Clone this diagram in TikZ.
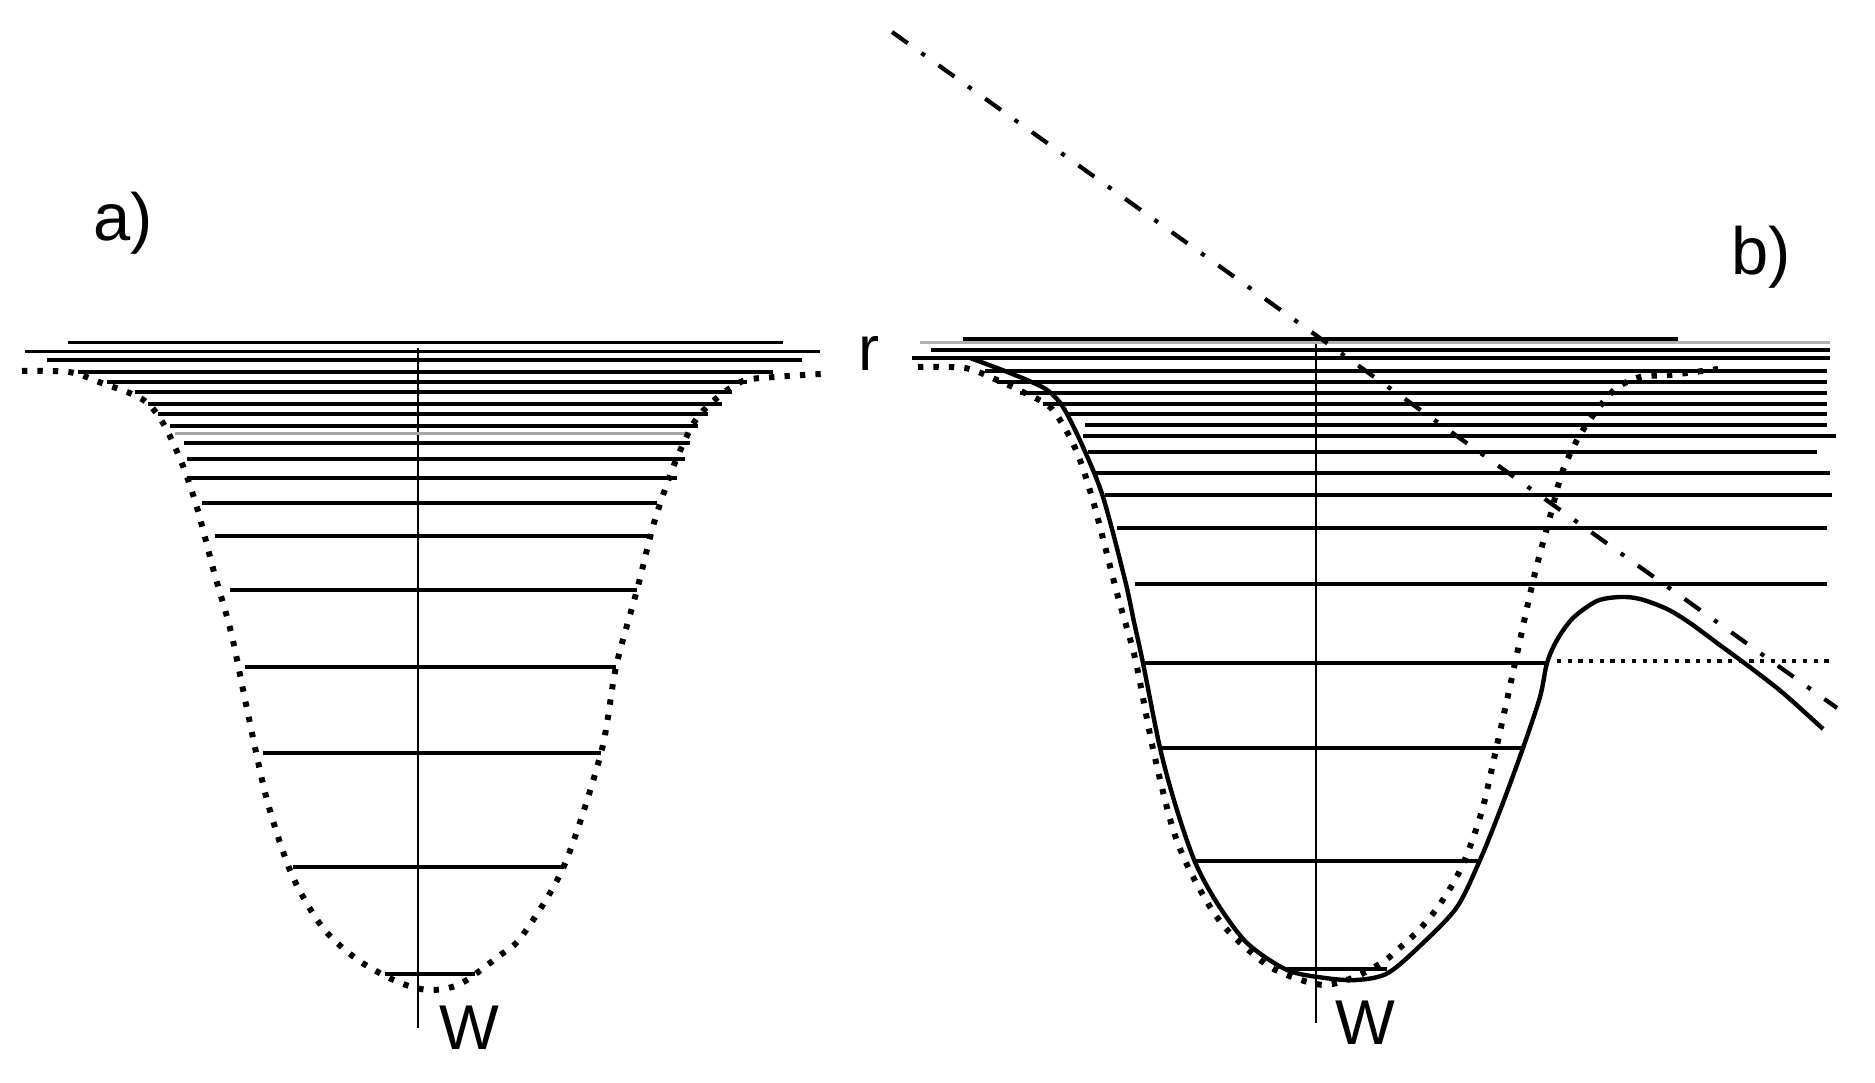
\documentclass[tikz,border=0pt]{standalone}
\usepackage{fontspec}
\setmainfont{Liberation Sans}

\begin{document}
\begin{tikzpicture}[x=0.01cm, y=-0.01cm,
    label text/.style={inner sep=0pt, anchor=base west, font=\fontsize{18}{18}\selectfont},
    panel text/.style={label text, font=\fontsize{19}{19}\selectfont},
    axis line/.style={line width=0.8pt},
    level line/.style={line width=1.25pt},
    thin level/.style={line width=0.85pt},
    curve line/.style={line width=1.25pt, line join=round},
    dot line/.style={line width=1.7pt, dash pattern=on 1.5pt off 2.9pt},
    short dots/.style={line width=1.3pt, dash pattern=on 1.2pt off 1.84pt},
    dash dot line/.style={line width=1.2pt, dash pattern=on 5.5pt off 4.8pt on 1.2pt off 4.8pt}]
  \useasboundingbox (0,0) rectangle (1875,1083);

  % a)
  \node[panel text] (alabel) at (93,241) {a)};
  \node[label text] (wleft) at (439,1050) {W};
  \draw[axis line] (418,348) -- (418,1028);
  \draw[thin level] (68,343) -- (783,343);
  \draw[thin level] (25,352) -- (820,352);
  \draw[draw=black!35, thin level] (175,434) -- (690,434);
  \foreach \ypos/\xa/\xb in {360/47/802, 372/78/773, 382/107/747, 392/135/732,
      404/148/722, 414/158/708, 426/170/698, 443/184/690, 459/187/685, 478/187/677,
      503/202/657, 536/215/653, 590/230/637, 667/245/616, 753/263/601, 867/293/564,
      974/385/475}
    \draw[level line] (\xa,\ypos) -- (\xb,\ypos);
  \draw[dot line] plot[smooth] coordinates {(22,371) (69,372) (99,382) (142,399)
      (163,423) (183,466) (198,511) (214,572) (231,632) (247,709) (267,800) (292,875)
      (323,928) (358,960) (398,982) (429,990) (460,984) (499,956) (522,936) (564,866)
      (601,753) (616,667) (637,590) (654,523) (674,465) (695,421) (717,398) (743,381)
      (774,377) (821,374)};

  % b)
  \node[panel text] (blabel) at (1731,275) {b)};
  \node[label text] (rlabel) at (858,371) {r};
  \node[label text] (wright) at (1335,1045) {W};
  \draw[axis line] (1316,333) -- (1316,1023);
  \draw[draw=black!30, thin level] (920,343) -- (1830,343);
  \foreach \ypos/\xa/\xb in {339/963/1678, 350/931/1830, 358/912/1830, 371/985/1827,
      382/997/1827, 393/1020/1827, 404/1043/1827, 414/1067/1827, 425/1085/1827,
      436/1083/1836, 452/1088/1817, 473/1093/1830, 495/1105/1832, 528/1117/1827,
      584/1135/1827, 663/1143/1547, 748/1160/1523, 861/1195/1480, 969/1287/1387}
    \draw[level line] (\xa,\ypos) -- (\xb,\ypos);
  \draw[curve line] plot[smooth] coordinates {(970,358) (997,368) (1027,380) (1047,390)
      (1063,407) (1083,447) (1103,497) (1125,580) (1134,622) (1143,663) (1160,748)
      (1176,807) (1195,862) (1217,903) (1247,943) (1287,970) (1325,978) (1357,980)
      (1388,973) (1423,943) (1457,907) (1480,860) (1501,808) (1523,748) (1540,697)
      (1547,663) (1557,640) (1573,618) (1597,601) (1620,597) (1640,599) (1667,609)
      (1690,623) (1717,643) (1747,665) (1783,693) (1823,729)};
  \draw[dot line] plot[smooth] coordinates {(918,367) (965,368) (997,380) (1023,392)
      (1050,407) (1067,432) (1080,460) (1095,508) (1118,597) (1135,658) (1153,749)
      (1172,826) (1189,869) (1212,910) (1232,935) (1267,965) (1295,978) (1325,985)
      (1355,977) (1383,962) (1395,952) (1418,931) (1438,907) (1455,880) (1468,852)
      (1483,807) (1497,745) (1507,700) (1517,654) (1534,577) (1550,517) (1563,470)
      (1583,430) (1613,391) (1640,377) (1670,375) (1718,369)};
  \draw[short dots] (1557,661) -- (1832,661);
  \draw[dash dot line] (892,32) -- (1837,708);
\end{tikzpicture}
\end{document}
